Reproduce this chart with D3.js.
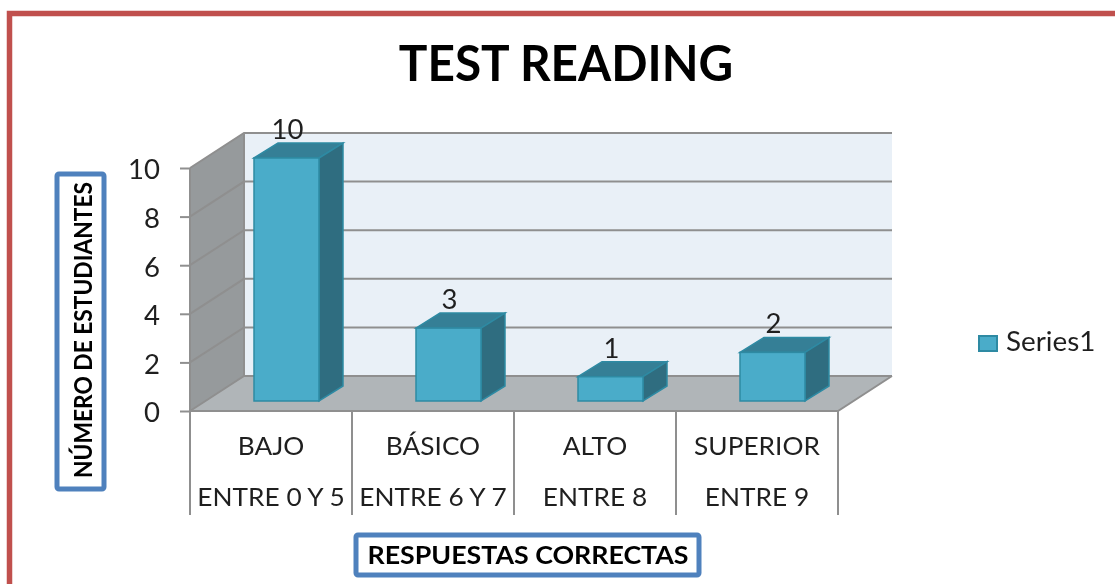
<!DOCTYPE html>
<html>
<head>
<meta charset="utf-8">
<script src="https://cdn.jsdelivr.net/npm/d3@7"></script>
<style>
  html, body { margin: 0; padding: 0; background: #fff; overflow: hidden; }
  svg { display: block; filter: blur(0.45px); }
  text { font-family: Lato, "Open Sans", sans-serif; fill: #1f1f1f; }
</style>
</head>
<body>
<svg id="chart"></svg>
<script>
let categories = ["BAJO", "BÁSICO", "ALTO", "SUPERIOR"],
  ranges = ["ENTRE 0 Y 5", "ENTRE 6 Y 7", "ENTRE 8", "ENTRE 9"],
  values = [10, 3, 1, 2],
  y_ticks = [0, 2, 4, 6, 8, 10],
  series_name = "Series1",
  title = "TEST READING",
  x_title = "RESPUESTAS CORRECTAS",
  y_title = "NÚMERO DE ESTUDIANTES";

let width = 1115,
  height = 584,
  plot = {left: 190, right: 838, top: 168, bottom: 411},
  wall = {dx: 54, dy: -35},
  bar = {width: 65, dx: 15.5, dy: -10, depth_x: 24, depth_y: -15},
  colors = {
    frame: "#c0504d", box: "#4f81bd", back: "#e9f0f7", side: "#969a9c",
    floor: "#b0b5b8", grid: "#8f8f8f", front: "#4aacc9", top: "#357f96",
    right: "#2f6d80", edge: "#2e8aa3"
  };

let svg = d3.select("#chart").attr("width", width).attr("height", height)

function points(list) {
  return list.map(p => p.join(",")).join(" ")
}

// stretches text sideways, the picture has wider glyphs than the font
function stretch(sel, factor) {
  sel.each(function() {
    let len = this.getComputedTextLength()
    d3.select(this)
      .attr("textLength", len * factor)
      .attr("lengthAdjust", "spacingAndGlyphs")
  })
}

function make_scales() {
  return {
    x: d3.scaleBand().domain(categories).range([plot.left, plot.right]),
    y: d3.scaleLinear().domain([0, 10]).range([plot.bottom, plot.top])
  }
}

function draw_frame() {
  svg.append("path")
    .attr("d", `M9.5,${height + 10}V13.5H${width + 10}`)
    .attr("fill", "none")
    .attr("stroke", colors.frame)
    .attr("stroke-width", 5.5)
}

function draw_walls(scales) {
  let {left, right, top, bottom} = plot,
    {dx, dy} = wall;

  svg.append("polygon")
    .attr("points", points([[left + dx, top + dy], [right + dx, top + dy], [right + dx, bottom + dy], [left + dx, bottom + dy]]))
    .attr("fill", colors.back)
  svg.append("polygon")
    .attr("points", points([[left, top], [left + dx, top + dy], [left + dx, bottom + dy], [left, bottom]]))
    .attr("fill", colors.side)
  svg.append("polygon")
    .attr("points", points([[left, bottom], [left + dx, bottom + dy], [right + dx, bottom + dy], [right, bottom]]))
    .attr("fill", colors.floor)

  // gridlines run along the side wall and then across the back wall
  svg.append("g").selectAll("polyline")
    .data(y_ticks).enter()
    .append("polyline")
    .attr("points", d => points([[left, scales.y(d)], [left + dx, scales.y(d) + dy], [right + dx, scales.y(d) + dy]]))
    .attr("fill", "none")
    .attr("stroke", colors.grid)
    .attr("stroke-width", 2)
  svg.append("polyline")
    .attr("points", points([[left, top], [left, bottom], [right, bottom], [right + dx, bottom + dy]]))
    .attr("fill", "none")
    .attr("stroke", colors.grid)
    .attr("stroke-width", 2)
  svg.append("line")
    .attr("x1", left + dx).attr("x2", left + dx)
    .attr("y1", top + dy).attr("y2", bottom + dy)
    .attr("stroke", colors.grid)
    .attr("stroke-width", 2)
}

function draw_bars(scales) {
  let data = categories.map((c, i) => ({category: c, value: values[i]})),
    x0 = d => scales.x(d.category) + scales.x.bandwidth() / 2 + bar.dx - bar.width / 2,
    x1 = d => x0(d) + bar.width,
    y0 = () => scales.y(0) + bar.dy,
    y1 = d => scales.y(d.value) + bar.dy;

  let groups = svg.append("g").selectAll("g")
    .data(data).enter()
    .append("g")
    .attr("stroke", colors.edge)
    .attr("stroke-width", 1.5)

  groups.append("polygon")
    .attr("fill", colors.top)
    .attr("points", d => points([[x0(d), y1(d)], [x0(d) + bar.depth_x, y1(d) + bar.depth_y], [x1(d) + bar.depth_x, y1(d) + bar.depth_y], [x1(d), y1(d)]]))
  groups.append("polygon")
    .attr("fill", colors.right)
    .attr("points", d => points([[x1(d), y1(d)], [x1(d) + bar.depth_x, y1(d) + bar.depth_y], [x1(d) + bar.depth_x, y0() + bar.depth_y], [x1(d), y0()]]))
  groups.append("rect")
    .attr("fill", colors.front)
    .attr("x", x0)
    .attr("y", y1)
    .attr("width", bar.width)
    .attr("height", d => y0() - y1(d))

  svg.append("g").selectAll("text")
    .data(data).enter()
    .append("text")
    .attr("x", d => x0(d) + bar.width / 2 + 1)
    .attr("y", d => y1(d) + bar.depth_y - 4)
    .attr("text-anchor", "middle")
    .attr("font-size", 26)
    .text(d => d.value)
    .call(stretch, 1.06)
}

function draw_axes(scales) {
  let y_axis = svg.append("g")
    .attr("transform", `translate(${plot.left}, 0)`)
    .call(d3.axisLeft(scales.y).tickValues(y_ticks).tickSize(10).tickPadding(20))
  y_axis.select(".domain").remove()
  y_axis.selectAll("line").attr("stroke", colors.grid).attr("stroke-width", 2)
  y_axis.selectAll("text")
    .attr("font-size", 26)
    .attr("dy", "0.42em")
    .attr("fill", "#1f1f1f")
    .style("font-family", "Lato")
    .call(stretch, 1.06)

  let bounds = categories.map(c => scales.x(c)).concat(plot.right)
  svg.append("g").selectAll("line")
    .data(bounds).enter()
    .append("line")
    .attr("x1", d => d).attr("x2", d => d)
    .attr("y1", plot.bottom).attr("y2", 515)
    .attr("stroke", colors.grid)
    .attr("stroke-width", 2)

  let center = c => scales.x(c) + scales.x.bandwidth() / 2
  svg.append("g").selectAll("text")
    .data(categories).enter()
    .append("text")
    .attr("x", d => center(d))
    .attr("y", 455)
    .attr("text-anchor", "middle")
    .attr("font-size", 25)
    .text(d => d)
    .call(stretch, 1.05)
  svg.append("g").selectAll("text")
    .data(ranges).enter()
    .append("text")
    .attr("x", (d, i) => center(categories[i]))
    .attr("y", 506)
    .attr("text-anchor", "middle")
    .attr("font-size", 25)
    .text(d => d)
    .call(stretch, 1.05)
}

function draw_titles() {
  svg.append("text")
    .attr("x", 566)
    .attr("y", 81)
    .attr("text-anchor", "middle")
    .attr("font-size", 50)
    .attr("font-weight", 700)
    .style("fill", "#000")
    .text(title)
    .call(stretch, 0.955)

  svg.append("rect")
    .attr("x", 356).attr("y", 535)
    .attr("width", 343).attr("height", 40)
    .attr("rx", 2)
    .attr("fill", "#fff")
    .attr("stroke", colors.box)
    .attr("stroke-width", 5)
  svg.append("text")
    .attr("x", 528)
    .attr("y", 564)
    .attr("text-anchor", "middle")
    .attr("font-size", 25)
    .attr("font-weight", 700)
    .style("fill", "#000")
    .text(x_title)
    .call(stretch, 1.07)

  svg.append("rect")
    .attr("x", 57).attr("y", 174)
    .attr("width", 47).attr("height", 315)
    .attr("rx", 2)
    .attr("fill", "#fff")
    .attr("stroke", colors.box)
    .attr("stroke-width", 5)
  svg.append("text")
    .attr("transform", "translate(92, 330) rotate(-90)")
    .attr("text-anchor", "middle")
    .attr("font-size", 25)
    .attr("font-weight", 700)
    .style("fill", "#000")
    .text(y_title)
    .call(stretch, 0.91)
}

function draw_legend() {
  svg.append("rect")
    .attr("x", 979).attr("y", 336)
    .attr("width", 18).attr("height", 15)
    .attr("fill", colors.front)
    .attr("stroke", colors.edge)
    .attr("stroke-width", 2)
  svg.append("text")
    .attr("x", 1006)
    .attr("y", 351)
    .attr("font-size", 26)
    .text(series_name)
    .call(stretch, 1.07)
}

let scales = make_scales()
draw_frame()
draw_walls(scales)
draw_bars(scales)
draw_axes(scales)
draw_titles()
draw_legend()
</script>
</body>
</html>
